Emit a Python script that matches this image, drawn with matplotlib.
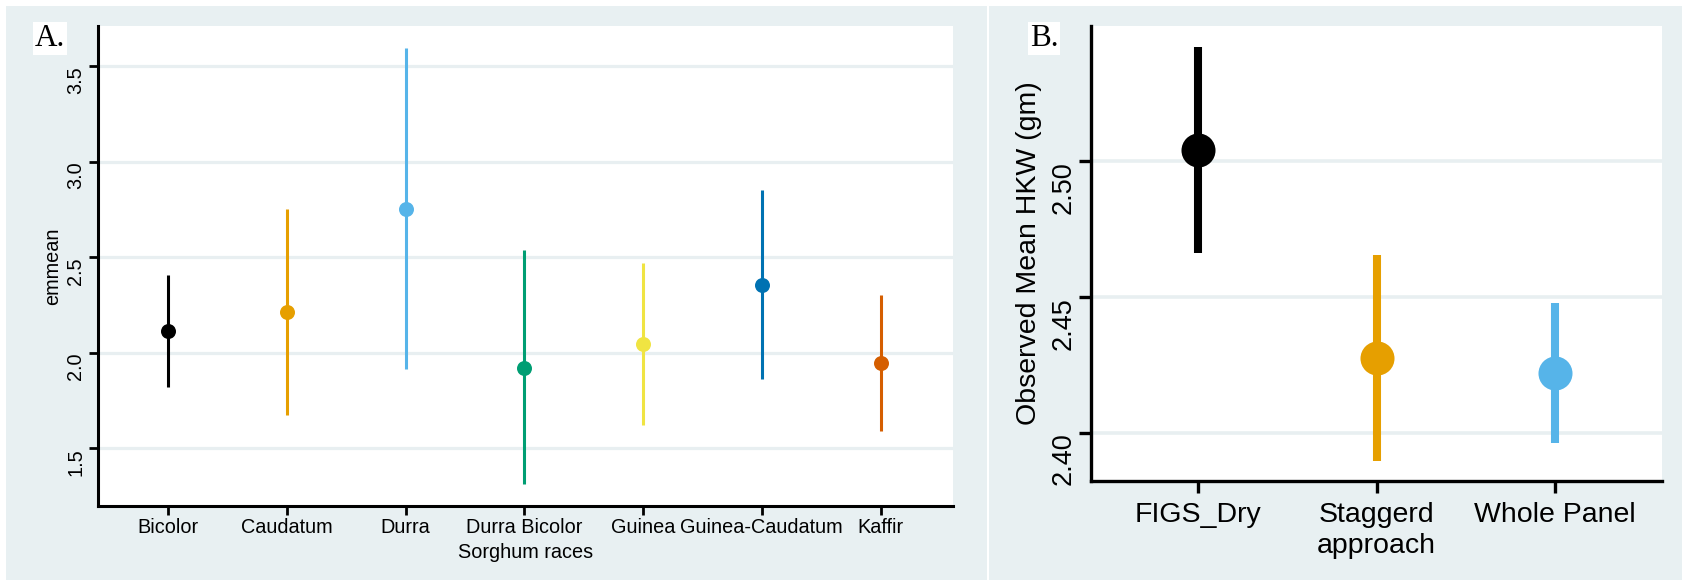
import matplotlib
matplotlib.use('Agg')
import matplotlib.pyplot as plt
from matplotlib.patches import Rectangle

# ---- Panel A data ----
races = ["Bicolor", "Caudatum", "Durra", "Durra Bicolor", "Guinea", "Guinea-Caudatum", "Kaffir"]
emmean = [2.115, 2.213, 2.755, 1.921, 2.045, 2.355, 1.946]
lower_cl = [1.819, 1.677, 1.915, 1.313, 1.621, 1.862, 1.590]
upper_cl = [2.407, 2.752, 3.594, 2.538, 2.472, 2.850, 2.304]
race_colors = ["#000000", "#E69F00", "#56B4E9", "#009E73", "#F0E442", "#0072B2", "#D55E00"]
a_yticks = [1.5, 2.0, 2.5, 3.0, 3.5]

# ---- Panel B data ----
groups = ["FIGS_Dry", "Staggerd\napproach", "Whole Panel"]
hkw_mean = [2.504, 2.4275, 2.422]
hkw_lower = [2.466, 2.3897, 2.3963]
hkw_upper = [2.5421, 2.4654, 2.4476]
group_colors = ["#000000", "#E69F00", "#56B4E9"]
b_yticks = [2.40, 2.45, 2.50]
b_yticklabels = ["2.40", "2.45", "2.50"]

W, H = 1682, 580
BG = "#E8F0F2"
GRID = "#E8EFF1"
SANS = ["Liberation Sans", "DejaVu Sans"]
SERIF = ["Liberation Serif", "DejaVu Serif"]

fig = plt.figure(figsize=(W / 100, H / 100), dpi=100)
fig.patch.set_facecolor("white")

# panel backgrounds
fig.add_artist(Rectangle((6 / W, 0), (987 - 6) / W, (H - 6) / H, transform=fig.transFigure,
                         facecolor=BG, edgecolor="none", zorder=0))
fig.add_artist(Rectangle((988.5 / W, 0), (W - 988.5) / W, (H - 6) / H, transform=fig.transFigure,
                         facecolor=BG, edgecolor="none", zorder=0))


def frac(l, t, r, b):
    return [l / W, 1 - b / H, (r - l) / W, (b - t) / H]


# ---------------- Panel A ----------------
axA = fig.add_axes(frac(98, 26, 953, 506))
axA.set_facecolor("white")
xa = list(range(1, len(races) + 1))
for i in range(len(races)):
    axA.vlines(xa[i], lower_cl[i], upper_cl[i], color=race_colors[i], lw=2.2, zorder=3)
    axA.plot(xa[i], emmean[i], "o", color=race_colors[i], ms=10.8, mec="none", zorder=4)
axA.set_xlim(0.41, 7.61)
axA.set_ylim(1.198, 3.711)
axA.set_yticks(a_yticks)
axA.set_yticklabels([f"{v:.1f}" for v in a_yticks])
axA.set_xticks(xa)
axA.set_xticklabels(races)
axA.grid(axis="y", color=GRID, lw=2.3)
axA.grid(axis="x", visible=False)
axA.set_axisbelow(True)
for s in ["top", "right"]:
    axA.spines[s].set_visible(False)
for s in ["left", "bottom"]:
    axA.spines[s].set_linewidth(2.2)
    axA.spines[s].set_color("black")
axA.tick_params(axis="both", length=6.5, width=2.0, color="black", labelsize=14.3)
axA.tick_params(axis="x", pad=2.0)
axA.tick_params(axis="y", pad=2.5)
for lab in axA.get_xticklabels():
    lab.set_family(SANS)
for lab in axA.get_yticklabels():
    lab.set_family(SANS)
    lab.set_rotation(90)
    lab.set_va("top")
fig.text(52.5 / W, 1 - 266 / H, "emmean", rotation=90, ha="center", va="center",
         fontsize=14.3, family=SANS)
fig.text(525.5 / W, 1 - 552 / H, "Sorghum races", ha="center", va="center",
         fontsize=14.3, family=SANS)
fig.text(50 / W, 1 - 38.5 / H, "A.", ha="center", va="center", fontsize=22.5, family=SERIF,
         bbox=dict(boxstyle="square,pad=0.06", facecolor="white", edgecolor="none"))

# ---------------- Panel B ----------------
axB = fig.add_axes(frac(1091, 26, 1662, 481))
axB.set_facecolor("white")
xb = list(range(1, len(groups) + 1))
for i in range(len(groups)):
    axB.vlines(xb[i], hkw_lower[i], hkw_upper[i], color=group_colors[i], lw=5.8, zorder=3)
    axB.plot(xb[i], hkw_mean[i], "o", color=group_colors[i], ms=24.5, mec="none", zorder=4)
axB.set_xlim(0.4, 3.6)
axB.set_ylim(2.3822, 2.5497)
axB.set_yticks(b_yticks)
axB.set_yticklabels(b_yticklabels)
axB.set_xticks(xb)
axB.set_xticklabels(groups)
axB.grid(axis="y", color=GRID, lw=2.6)
axB.grid(axis="x", visible=False)
axB.set_axisbelow(True)
for s in ["top", "right"]:
    axB.spines[s].set_visible(False)
for s in ["left", "bottom"]:
    axB.spines[s].set_linewidth(2.4)
    axB.spines[s].set_color("black")
axB.tick_params(axis="both", length=8.5, width=2.4, color="black")
axB.tick_params(axis="x", pad=6.5, labelsize=20.5)
axB.tick_params(axis="y", pad=1.5, labelsize=19.5)
for lab in axB.get_xticklabels():
    lab.set_family(SANS)
    lab.set_linespacing(1.28)
for lab in axB.get_yticklabels():
    lab.set_family(SANS)
    lab.set_rotation(90)
    lab.set_va("top")
fig.text(1028.5 / W, 1 - 253.5 / H, "Observed Mean HKW (gm)", rotation=90, ha="center",
         va="center", fontsize=20.5, family=SANS)
fig.text(1044 / W, 1 - 38.5 / H, "B.", ha="center", va="center", fontsize=22.5, family=SERIF,
         bbox=dict(boxstyle="square,pad=0.06", facecolor="white", edgecolor="none"))

fig.savefig("out.png", dpi=100, facecolor=fig.get_facecolor())
